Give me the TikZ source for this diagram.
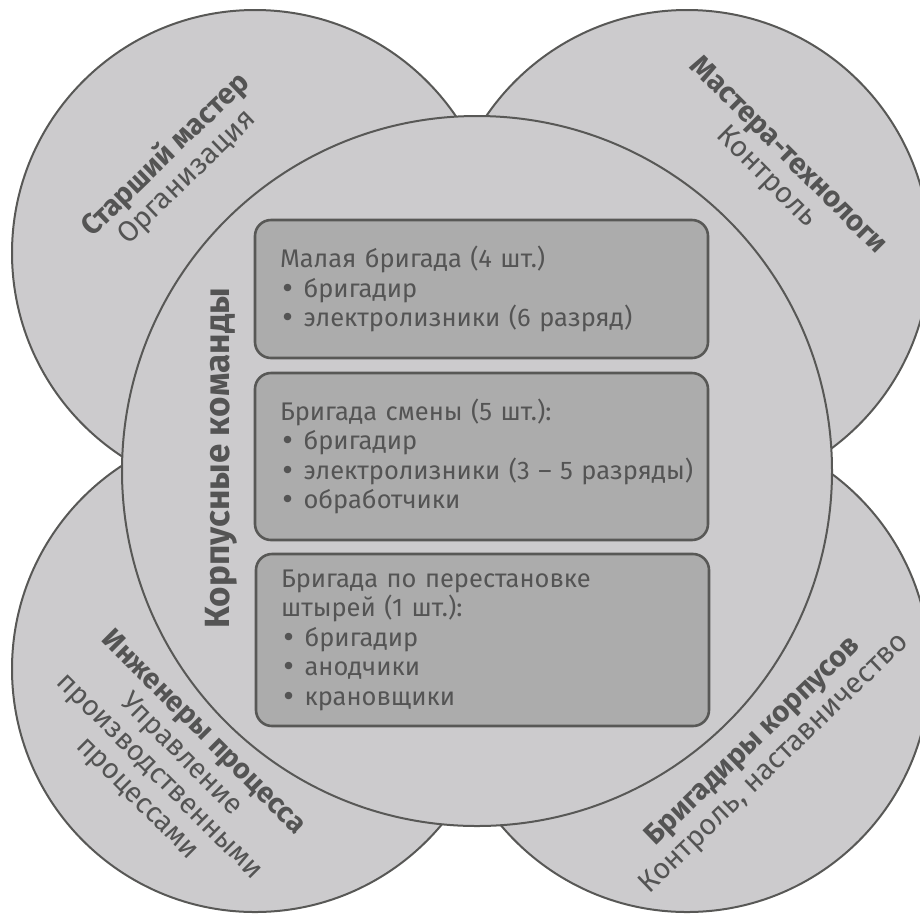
\documentclass[tikz,border=0pt]{standalone}
\usepackage{fontspec}
\setmainfont{Fira Sans}
\newfontfamily\bulletfont{DejaVu Sans}
\newcommand{\bul}{{\bulletfont •}}
\definecolor{circfill}{RGB}{204,203,205}
\definecolor{boxfill}{RGB}{172,172,172}
\definecolor{edgecol}{RGB}{88,88,86}
\definecolor{txtcol}{RGB}{84,84,84}
\begin{document}
\begin{tikzpicture}[x=1pt,y=-1pt,
  outer/.style={circle, draw=edgecol, line width=2pt, fill=circfill, minimum size=486pt, inner sep=0pt},
  inner/.style={circle, draw=edgecol, line width=2pt, fill=circfill, minimum size=710pt, inner sep=0pt},
  teambox/.style={draw=edgecol, line width=2.6pt, fill=boxfill, rounded corners=16pt,
    minimum width=453pt, inner xsep=0pt, inner ysep=0pt, text width=403pt, align=left,
    text=txtcol, font=\fontsize{25.5}{29.5}\selectfont},
  roletext/.style={text=txtcol, align=center, inner sep=0pt, font=\fontsize{29}{30.5}\selectfont},
]
\useasboundingbox (0,0) rectangle (920,914);
\clip (0,0) rectangle (920,914);
\fill[white] (0,0) rectangle (920,914);

\node[outer] (tl) at (255,253) {};
\node[outer] (tr) at (687,253) {};
\node[outer] (bl) at (255,669) {};
\node[outer] (br) at (687,669) {};
\node[inner] (core) at (477,471) {};

\node[teambox, minimum height=138pt] (b1) at (481.5,289)
  {Малая бригада (4 шт.)\\\bul{} бригадир\\\bul{} электролизники (6 разряд)};
\node[teambox, minimum height=167pt] (b2) at (481.5,456.5)
  {Бригада смены (5 шт.):\\\bul{} бригадир\\\mbox{\bul{} электролизники (3 – 5 разряды)}\\\bul{} обработчики};
\node[teambox, minimum height=172pt] (b3) at (482.5,640)
  {Бригада по перестановке\\штырей (1 шт.):\\\bul{} бригадир\\\bul{} анодчики\\\bul{} крановщики};

\node[roletext, rotate=90, font=\fontsize{35}{38}\selectfont\bfseries] (cmd) at (221,458) {Корпусные команды};

\node[roletext, rotate=44] (t1) at (176,166) {\textbf{Старший мастер}\\Организация};
\node[roletext, rotate=-45] (t2) at (777,167) {\textbf{Мастера-технологи}\\Контроль};
\node[roletext, rotate=-45, font=\fontsize{28.5}{31}\selectfont] (t3) at (170,766)
  {\textbf{Инженеры процесса}\\Управление\\производственными\\процессами};
\node[roletext, rotate=44] (t4) at (764,753) {\textbf{Бригадиры корпусов}\\Контроль, наставничество};
\end{tikzpicture}
\end{document}
